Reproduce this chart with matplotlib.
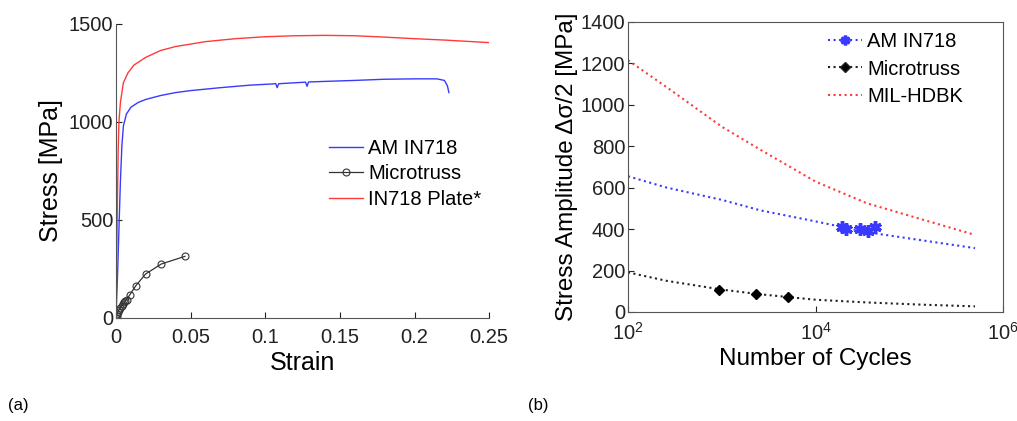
import numpy as np
import matplotlib.pyplot as plt

plt.rcParams['font.family'] = ['Liberation Sans', 'DejaVu Sans']

# (a) tensile curves
am_strain = [0, 0.001, 0.002, 0.003, 0.004, 0.005, 0.007, 0.01, 0.015, 0.02, 0.03, 0.04, 0.05,
             0.07, 0.09, 0.105, 0.107, 0.108, 0.109, 0.111, 0.12, 0.127, 0.128, 0.129, 0.14,
             0.16, 0.18, 0.2, 0.215, 0.22, 0.222, 0.223]
am_stress = [0, 200, 450, 700, 880, 980, 1040, 1075, 1100, 1115, 1135, 1150, 1160,
             1175, 1188, 1194, 1196, 1175, 1195, 1196, 1200, 1203, 1182, 1204, 1207,
             1212, 1218, 1220, 1220, 1212, 1185, 1150]

plate_strain = [0, 0.0005, 0.001, 0.0015, 0.002, 0.003, 0.005, 0.008, 0.012, 0.02, 0.03, 0.04,
                0.06, 0.08, 0.1, 0.12, 0.14, 0.16, 0.18, 0.2, 0.22, 0.25]
plate_stress = [0, 300, 600, 850, 1000, 1100, 1200, 1250, 1290, 1330, 1365, 1385,
                1410, 1425, 1435, 1440, 1442, 1440, 1433, 1425, 1418, 1405]

truss_strain = [0, 0.0004, 0.0009, 0.0015, 0.0022, 0.003, 0.0038, 0.0047, 0.0056, 0.0064,
                0.0071, 0.0094, 0.0134, 0.0199, 0.0304, 0.0462]
truss_stress = [0, 8, 22, 32, 42, 50, 59, 70, 80, 87, 93, 119, 165, 224, 275, 314]

# (b) fatigue
n_fit = [1e2, 2.6e2, 1e3, 2.6e3, 1e4, 3.5e4, 1.4e5, 5e5]
mil_fit = [1215, 1084, 894, 782, 629, 525, 445, 372]
am_fit = [655, 600, 541, 490, 437, 385, 345, 308]
truss_fit = [191, 150, 108, 85, 59, 46, 35, 27]

am_n = [1.9e4, 2.1e4, 3.0e4, 3.6e4, 4.3e4]
am_amp = [408, 401, 398, 390, 412]
truss_n = [9.4e2, 2.3e3, 5.1e3]
truss_amp = [108, 88, 72]

blue = '#3a3aff'
red = '#ff3a3a'
aster = (6, 2, 0)

fig = plt.figure(figsize=(10.17, 4.21), dpi=100)

ax1 = fig.add_axes([0.114, 0.245, 0.367, 0.698])
ax1.plot(am_strain, am_stress, color=blue, lw=1.0, label='AM IN718')
ax1.plot(truss_strain, truss_stress, color='#333333', lw=0.9, marker='o', ms=5,
         mfc='none', mec='#333333', mew=0.8, label='Microtruss')
ax1.plot(plate_strain, plate_stress, color=red, lw=1.0, label='IN718 Plate*')
ax1.set_xlim(0, 0.25)
ax1.set_ylim(0, 1500)
ax1.set_xticks([0, 0.05, 0.1, 0.15, 0.2, 0.25])
ax1.set_xticklabels(['0', '0.05', '0.1', '0.15', '0.2', '0.25'])
ax1.set_yticks([0, 500, 1000, 1500])
ax1.spines['top'].set_visible(False)
ax1.spines['right'].set_visible(False)
ax1.set_xlabel('Strain', fontsize=18, labelpad=3)
ax1.set_ylabel('Stress [MPa]', fontsize=18, labelpad=4)
ax1.legend(loc='center left', bbox_to_anchor=(0.571, 0.49), frameon=False, fontsize=14.5,
           handlelength=1.7, handletextpad=0.25, labelspacing=0.32, borderaxespad=0,
           borderpad=0)

ax2 = fig.add_axes([0.6175, 0.259, 0.369, 0.689])
ax2.plot(n_fit, am_fit, color=blue, ls=':', lw=1.5)
ax2.plot(am_n, am_amp, color=blue, ls='none', marker=aster, ms=9, mew=2.5)
ax2.plot(n_fit, truss_fit, color='#222222', ls=':', lw=1.5)
ax2.plot(truss_n, truss_amp, color='black', ls='none', marker='D', ms=5)
ax2.plot(n_fit, mil_fit, color=red, ls=':', lw=1.5)
ax2.set_xscale('log')
ax2.set_xlim(1e2, 1e6)
ax2.set_ylim(0, 1400)
ax2.set_xticks([1e2, 1e4, 1e6])
ax2.minorticks_off()
ax2.set_yticks(np.arange(0, 1401, 200))
ax2.set_xlabel('Number of Cycles', fontsize=17.5, labelpad=3)
ax2.set_ylabel('Stress Amplitude Δσ/2 [MPa]', fontsize=17.5, labelpad=2)

h_am, = ax2.plot([], [], color=blue, ls=':', lw=1.5, marker=aster, ms=7, mew=2.5)
h_tr, = ax2.plot([], [], color='#222222', ls=':', lw=1.5, marker='D', ms=5, mfc='black')
h_mil, = ax2.plot([], [], color=red, ls=':', lw=1.5)
ax2.legend([h_am, h_tr, h_mil], ['AM IN718', 'Microtruss', 'MIL-HDBK'],
           loc='upper left', bbox_to_anchor=(0.533, 0.965), frameon=False, fontsize=14.5,
           handlelength=1.7, handletextpad=0.25, labelspacing=0.42, borderaxespad=0,
           borderpad=0)

for ax in (ax1, ax2):
    ax.tick_params(direction='in', labelsize=14.5, length=4, colors='#222222')
    ax.tick_params(axis='x', pad=7)
    ax.tick_params(axis='y', pad=2)
    for s in ax.spines.values():
        s.set_color('#555555')

fig.text(0.008, 0.026, '(a)', fontsize=12)
fig.text(0.519, 0.026, '(b)', fontsize=12)

fig.savefig('out.png', dpi=100)
